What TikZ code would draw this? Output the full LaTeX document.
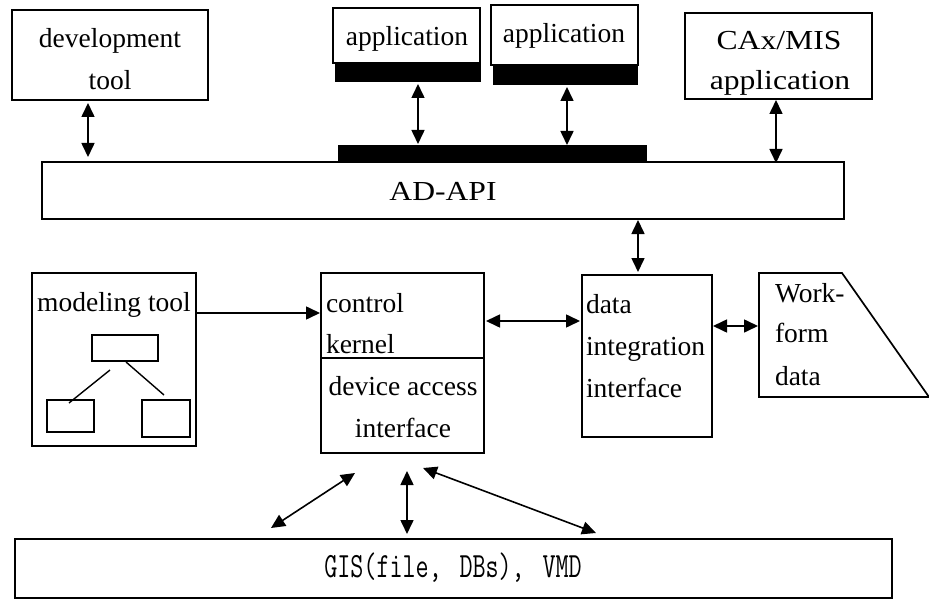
\documentclass[tikz,border=0pt]{standalone}
\usepackage{fontspec}
\setmainfont{Liberation Serif}
\usepackage{graphicx}
\usetikzlibrary{arrows.meta}
\newcommand{\widetxt}[1]{\scalebox{1.15}[1]{#1}}
\newcommand{\gistxt}[1]{\scalebox{0.714}[1]{\fontsize{35.5}{40}\selectfont\ttfamily #1}}
\tikzset{
  box/.style={draw, line width=1.7pt, inner sep=0pt, outer sep=0pt, anchor=north west},
  bar/.style={fill=black, draw=none, inner sep=0pt, outer sep=0pt, anchor=north west},
  thin box/.style={draw, line width=1.4pt, inner sep=0pt, outer sep=0pt, anchor=north west},
  lbl/.style={inner sep=0pt, outer sep=0pt, anchor=base},
  lblw/.style={inner sep=0pt, outer sep=0pt, anchor=base west},
  dbl/.style={{Triangle[length=14pt,width=13pt]}-{Triangle[length=14pt,width=13pt]}, line width=1.6pt},
  sgl/.style={-{Triangle[length=14pt,width=13pt]}, line width=1.6pt},
}
\begin{document}
\begin{tikzpicture}[x=1pt,y=-1pt, font=\fontsize{27.5}{33}\selectfont]
\useasboundingbox (0,0) rectangle (929,599);

% top row
\node[box, minimum width=196pt, minimum height=90pt] (dev) at (12,10) {};
\node[lbl] (devt1) at (110,48) {development};
\node[lbl] (devt2) at (110,90) {tool};

\node[box, minimum width=147pt, minimum height=55pt] (app1) at (333,8) {};
\node[bar, minimum width=146pt, minimum height=19pt] (bar1) at (335,63) {};
\node[lbl] (app1t) at (407,46) {application};

\node[box, minimum width=147pt, minimum height=60pt] (app2) at (491,5) {};
\node[bar, minimum width=145pt, minimum height=19pt] (bar2) at (493,66) {};
\node[lbl] (app2t) at (564,43) {application};

\node[box, minimum width=187pt, minimum height=86pt] (cax) at (685,13) {};
\node[lbl] (caxt1) at (779,50) {\widetxt{CAx/MIS}};
\node[lbl] (caxt2) at (780,90) {\widetxt{application}};

% AD-API
\node[box, minimum width=802pt, minimum height=57pt] (api) at (42,162) {};
\node[bar, minimum width=309pt, minimum height=18pt] (bigbar) at (338,145) {};
\node[lbl] (apit) at (443,200) {\widetxt{AD-API}};

% middle row
\node[box, minimum width=164pt, minimum height=173pt] (model) at (32,273) {};
\node[lbl] (modelt) at (114,311) {modeling tool};
\node[thin box, minimum width=66pt, minimum height=26pt] (mtop) at (92,335) {};
\node[thin box, minimum width=47pt, minimum height=32pt] (mbl) at (47,400) {};
\node[thin box, minimum width=48pt, minimum height=37pt] (mbr) at (142,400) {};
\draw[line width=1.4pt] (110,370) -- (69,403);
\draw[line width=1.4pt] (126,362) -- (164,395);

\node[box, minimum width=163pt, minimum height=85pt] (ctrl) at (321,273) {};
\node[box, minimum width=163pt, minimum height=95pt] (dai) at (321,358) {};
\node[lblw] (ctrlt1) at (326,312) {control};
\node[lblw] (ctrlt2) at (326,353) {kernel};
\node[lbl] (dait1) at (403,395) {device access};
\node[lbl] (dait2) at (403,437) {interface};

\node[box, minimum width=130pt, minimum height=162pt] (data) at (582,275) {};
\node[lblw] (datat1) at (586,313) {data};
\node[lblw] (datat2) at (586,355) {integration};
\node[lblw] (datat3) at (586,397) {interface};

\coordinate (w1) at (759,273);
\coordinate (w2) at (842,273);
\coordinate (w3) at (929,397);
\coordinate (w4) at (759,397);
\draw[line width=1.7pt, line join=miter] (w4) -- (w1) -- (w2) -- (w3) -- cycle;
\node[lblw] (workt1) at (775,302) {Work-};
\node[lblw] (workt2) at (775,342) {form};
\node[lblw] (workt3) at (775,385) {data};

% bottom
\node[box, minimum width=877pt, minimum height=59pt] (gis) at (15,539) {};
\node[lbl] (gist) at (453,577) {\gistxt{GIS(file,\kern0.184em\ DBs),\kern0.184em\ VMD}};

% connectors
\coordinate (xd) at (88,0);
\coordinate (xa1) at (418,0);
\coordinate (xa2) at (567,0);
\coordinate (xc) at (776,0);
\coordinate (xi) at (638,0);
\coordinate (ym) at (0,313);
\coordinate (yc) at (0,321);
\coordinate (yw) at (0,326);
\coordinate (xg) at (407,0);

\draw[dbl, shorten <=3pt, shorten >=5pt] (dev.south -| xd) -- (api.north -| xd);
\draw[dbl, shorten <=2pt, shorten >=1pt] (bar1.south -| xa1) -- (bigbar.north -| xa1);
\draw[dbl, shorten <=2pt, shorten >=0pt] (bar2.south -| xa2) -- (bigbar.north -| xa2);
\draw[dbl, shorten <=1pt, shorten >=-1pt] (cax.south -| xc) -- (api.north -| xc);
\draw[dbl, shorten <=1pt, shorten >=3pt] (api.south -| xi) -- (data.north -| xi);
\draw[sgl, shorten >=1pt] (model.east |- ym) -- (ctrl.west |- ym);
\draw[dbl, shorten <=2pt, shorten >=2pt] (ctrl.east |- yc) -- (data.west |- yc);
\draw[dbl, shorten <=1pt, shorten >=1pt] (data.east |- yw) -- (w1 |- yw);

\coordinate (g1) at (271,528);
\coordinate (c1) at (355,473);
\coordinate (g3) at (596,533);
\coordinate (c3) at (423,468);
\draw[dbl] (g1) -- (c1);
\draw[dbl, shorten <=18pt, shorten >=5pt] (dai.south -| xg) -- (gis.north -| xg);
\draw[dbl] (c3) -- (g3);
\end{tikzpicture}
\end{document}
